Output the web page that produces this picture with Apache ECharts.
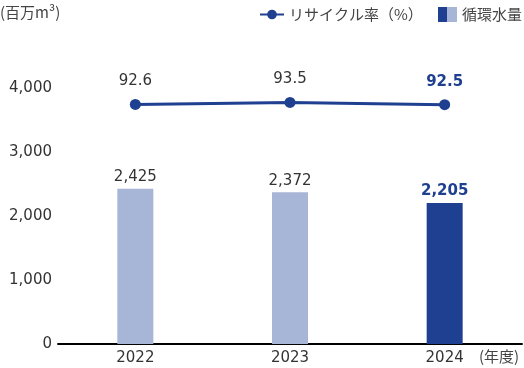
<!DOCTYPE html>
<html><head><meta charset="utf-8">
<script src="https://cdn.jsdelivr.net/npm/echarts@6/dist/echarts.min.js"></script>
<style>html,body{margin:0;padding:0;background:#fff}#c{width:524px;height:368px}</style>
</head><body><div id="c"></div>
<script>
const categories = ['2022', '2023', '2024'];
const waterValues = [2425, 2372, 2205];
const recycleRates = [92.6, 93.5, 92.5];
const yTicks = [0, 1000, 2000, 3000, 4000];

const DARK = '#1f3f91', LIGHT = '#a7b5d7', TXT = '#333';
const FONT = '"DejaVu Sans", "Noto Sans CJK JP", sans-serif';
const JFONT = '"Noto Sans CJK JP", sans-serif';
const last = categories.length - 1;

const chart = echarts.init(document.getElementById('c'));
chart.setOption({
  animation: false,
  textStyle: { fontFamily: FONT },
  grid: { left: 58, right: 2, top: 88, bottom: 24 },
  legend: [
    { data: ['リサイクル率（%）'], left: 254, top: 2, itemWidth: 24, itemHeight: 12,
      textStyle: { fontSize: 15, color: '#444', fontFamily: JFONT } },
    { data: [{ name: '循環水量', icon: 'rect' }], left: 433, top: 2, itemWidth: 19, itemHeight: 15,
      itemGap: 6, textStyle: { fontSize: 15, color: '#444', fontFamily: JFONT } }
  ],
  xAxis: {
    type: 'category', data: categories,
    axisLine: { lineStyle: { color: '#000', width: 2 } },
    axisTick: { show: false },
    axisLabel: { fontSize: 15, color: TXT, margin: 7 }
  },
  yAxis: [
    { type: 'value', min: yTicks[0], max: yTicks[yTicks.length - 1], interval: 1000,
      splitLine: { show: false }, axisLine: { show: false },
      axisLabel: { fontSize: 15, color: TXT, margin: 6,
        formatter: v => v.toLocaleString('en-US') } },
    { type: 'value', min: -15, max: 100, show: false, splitLine: { show: false } }
  ],
  series: [
    { name: '循環水量', type: 'bar', barWidth: 36, yAxisIndex: 0,
      itemStyle: { color: new echarts.graphic.LinearGradient(0, 0, 1, 0, [
        { offset: 0, color: DARK }, { offset: 0.5, color: DARK },
        { offset: 0.5, color: LIGHT }, { offset: 1, color: LIGHT }]) },
      data: waterValues.map((v, i) => ({
        value: v,
        itemStyle: { color: i === last ? DARK : LIGHT },
        label: i === last ? { color: DARK, fontWeight: 'bold' } : {}
      })),
      label: { show: true, position: 'top', distance: 4, fontSize: 15, color: TXT,
        formatter: p => p.value.toLocaleString('en-US') }
    },
    { name: 'リサイクル率（%）', type: 'line', yAxisIndex: 1,
      symbol: 'circle', symbolSize: 11,
      lineStyle: { color: DARK, width: 3 }, itemStyle: { color: DARK },
      data: recycleRates.map((v, i) => ({
        value: v,
        label: i === last ? { color: DARK, fontWeight: 'bold' } : {}
      })),
      label: { show: true, position: 'top', distance: 10, fontSize: 15, color: TXT,
        formatter: p => p.value.toFixed(1) }
    }
  ],
  graphic: [
    { type: 'text', left: 0, top: 5, style: { text: '(百万m³)', fill: '#444', font: '15px ' + JFONT } },
    { type: 'text', left: 479, top: 349, style: { text: '(年度)', fill: '#444', font: '15px ' + JFONT } }
  ]
});
</script></body></html>
